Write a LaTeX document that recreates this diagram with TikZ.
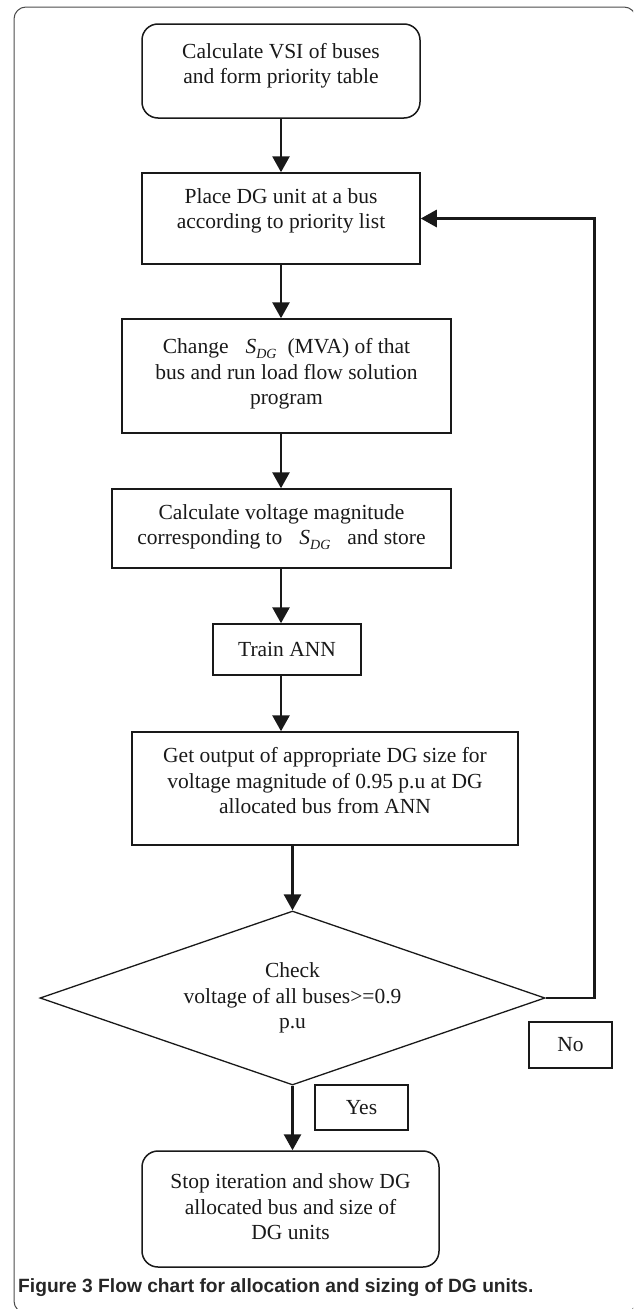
\documentclass[tikz,border=0pt]{standalone}
\usepackage{fontspec}
\setmainfont{Liberation Serif}
\newfontfamily\capfont{Liberation Sans}
\usetikzlibrary{arrows.meta,shapes.geometric}
\newcommand{\sdg}{\textit{S}\raisebox{-0.45ex}{\fontsize{14}{14}\selectfont\itshape DG}}
\begin{document}
\begin{tikzpicture}[x=1pt,y=-1pt,
  box/.style={draw=black!90, line width=1.5pt, inner sep=0pt},
  rbox/.style={box, rounded corners=16pt},
  txt/.style={align=center, font=\fontsize{21.5}{25.5}\selectfont, text=black!90, inner sep=0pt},
  arr/.style={draw=black!90, line width=2.8pt, -{Triangle[length=16pt,width=17pt]}},
]
\useasboundingbox (0,0) rectangle (633,1309);
\begin{scope}
\clip (0,0) rectangle (633,1309);
\draw[draw=black!70, line width=1pt, rounded corners=12pt] (14,7) rectangle (636,1313);
\end{scope}

% boxes
\node[rbox, minimum width=278pt, minimum height=94pt] (n1) at (281,71) {};
\node[txt] (t1) at (281,66) {Calculate VSI of buses\\and form priority table};

\node[box, minimum width=278pt, minimum height=91pt] (n2) at (281,218.5) {};
\node[txt] (t2) at (281,211) {Place DG unit at a bus\\according to priority list};

\node[box, minimum width=329pt, minimum height=114pt] (n3) at (286.5,376) {};
\node[txt] (t3) at (286.5,374) {Change\hspace{17pt}\sdg\hspace{11pt}(MVA) of that\\bus and run load flow solution\\program};

\node[box, minimum width=339pt, minimum height=79pt] (n4) at (281.5,528.5) {};
\node[txt] (t4) at (281.5,527) {Calculate voltage magnitude\\corresponding to\hspace{17pt}\sdg\hspace{17pt}and store};

\node[box, txt, draw=black!90, line width=1.5pt, minimum width=148pt, minimum height=51pt] (n5) at (287,649.5) {Train ANN};

\node[box, minimum width=386pt, minimum height=113pt] (n6) at (325,788.5) {};
\node[txt] (t6) at (325,781) {Get output of appropriate DG size for\\voltage magnitude of 0.95 p.u at DG\\allocated bus from ANN};

\node[txt, diamond, draw=black!90, line width=1.3pt, shape aspect=2.9, minimum width=505pt, minimum height=174pt] (dia) at (292.5,998) {Check\\voltage of all buses>=0.9\\p.u};

\node[box, txt, draw=black!90, line width=1.5pt, minimum width=83pt, minimum height=46pt] (no) at (570.5,1045) {No};
\node[box, txt, draw=black!90, line width=1.5pt, minimum width=93pt, minimum height=45pt] (yes) at (361.5,1107.5) {Yes};

\node[rbox, minimum width=297pt, minimum height=116pt] (fin) at (290.5,1209) {};
\node[txt] (t7) at (290.5,1207) {Stop iteration and show DG\\allocated bus and size of\\DG units};

% connectors
\draw[arr] (n1.south) -- (n2.north);
\draw[arr] (n2.south) -- (n2.south |- n3.north);
\draw[arr] (n3.south -| n2.south) -- (n4.north -| n2.south);
\draw[arr] (n4.south -| n2.south) -- (n5.north -| n2.south);
\draw[arr] (n5.south -| n2.south) -- (n6.north -| n2.south);
\draw[arr] (n6.south -| dia.north) -- (dia.north);
\draw[arr] (dia.south) -- (fin.north -| dia.south);
\draw[arr] (dia.east) -- ++(49,0) |- (n2.east);

% caption
\node[anchor=west, inner sep=0pt, font=\capfont\bfseries\fontsize{19.2}{22}\selectfont, text=black!85] (cap) at (18,1288) {Figure 3 Flow chart for allocation and sizing of DG units.};
\end{tikzpicture}
\end{document}
